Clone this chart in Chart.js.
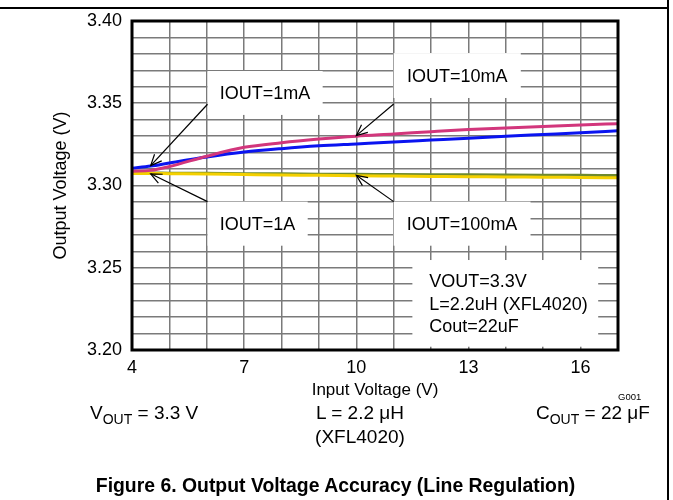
<!DOCTYPE html>
<html><head><meta charset="utf-8">
<script src="https://cdn.jsdelivr.net/npm/chart.js@4.4.1/dist/chart.umd.min.js"></script>
<style>
html,body{margin:0;padding:0;background:#fff;}
#wrap{position:relative;width:673px;height:500px;overflow:hidden;font-family:"Liberation Sans",Arial,sans-serif;color:#000;}
canvas{position:absolute;left:0;top:0;}
.t{position:absolute;white-space:nowrap;line-height:1;}
.sub{font-size:14px;position:relative;top:5px;}
</style></head><body>
<div id="wrap">
<canvas id="c" width="673" height="500"></canvas>
<div style="position:absolute;left:0;top:7px;width:669px;height:2px;background:#000"></div>
<div style="position:absolute;left:667px;top:0;width:2px;height:500px;background:#000"></div>
<div class="t" style="left:90px;top:403px;font-size:19px">V<span class="sub">OUT</span> = 3.3 V</div>
<div class="t" style="left:300px;width:120px;text-align:center;top:403px;font-size:19px">L = 2.2 μH</div>
<div class="t" style="left:300px;width:120px;text-align:center;top:427px;font-size:19px">(XFL4020)</div>
<div class="t" style="left:536px;top:403px;font-size:19px">C<span class="sub">OUT</span> = 22 μF</div>
<div class="t" style="left:618px;top:392px;font-size:9.5px">G001</div>
<div class="t" style="left:0;width:671px;text-align:center;top:476px;font-size:19.4px;font-weight:bold;">Figure 6. Output Voltage Accuracy (Line Regulation)</div>
</div>
<script>
// ---- data ----
const inputVoltage = [4, 4.5, 5, 6, 7, 8, 9, 10, 11, 12, 13, 14, 15, 16, 17];
const iout1mA   = [3.3105, 3.3118, 3.3137, 3.3173, 3.3203, 3.3224, 3.3241, 3.3253, 3.3265, 3.3276, 3.3287, 3.3299, 3.3310, 3.3321, 3.3333];
const iout10mA  = [3.3087, 3.3092, 3.3115, 3.3178, 3.3232, 3.3260, 3.3282, 3.3300, 3.3313, 3.3327, 3.3340, 3.3350, 3.3359, 3.3368, 3.3376];
const iout100mA = [3.3073, 3.3073, 3.3072, 3.3070, 3.3067, 3.3064, 3.3062, 3.3059, 3.3057, 3.3055, 3.3053, 3.3052, 3.3050, 3.3049, 3.3047];
const iout1A    = [3.3076, 3.3076, 3.3075, 3.3074, 3.3072, 3.3071, 3.3069, 3.3068, 3.3067, 3.3066, 3.3065, 3.3064, 3.3063, 3.3062, 3.3061];
const xTickLabels = ['4', '7', '10', '13', '16'];
const yTickLabels = ['3.20', '3.25', '3.30', '3.35', '3.40'];
const seriesNames = ['IOUT=10mA', 'IOUT=1mA', 'IOUT=100mA', 'IOUT=1A'];

// annotation boxes (data coords)
const labelBoxes = [
  {text: ['IOUT=1mA'],   x0: 6.02, x1: 9.1,  y0: 3.3696, y1: 3.3429, ax: 6.02, ay: 3.3494, tx: 4.5, ty: 3.3121},
  {text: ['IOUT=10mA'],  x0: 11.0, x1: 14.4, y0: 3.3805, y1: 3.3532, ax: 11.0, ay: 3.3495, tx: 10.0, ty: 3.3303},
  {text: ['IOUT=1A'],    x0: 6.02, x1: 8.7,  y0: 3.2902, y1: 3.2634, ax: 6.02, ay: 3.2902, tx: 4.5, ty: 3.3071},
  {text: ['IOUT=100mA'], x0: 11.0, x1: 14.66,y0: 3.2902, y1: 3.2634, ax: 11.0, ay: 3.2902, tx: 10.0, ty: 3.3062}
];
const infoBox = {lines: ['VOUT=3.3V', 'L=2.2uH (XFL4020)', 'Cout=22uF'], x0: 11.5, x1: 16.47, y0: 3.2547, y1: 3.2020, tx: 11.95, ty: [3.2415, 3.2274, 3.2142]};

const FONT = '"Liberation Sans", Arial, sans-serif';

const mk = (arr) => inputVoltage.map((v, i) => ({x: v, y: arr[i]}));

const annot = {
  id: 'annot',
  beforeDatasetsDraw(chart) {
    const {ctx, scales: {x, y}} = chart;
    ctx.save();
    ctx.font = '18px ' + FONT;
    ctx.textBaseline = 'middle';
    for (const b of labelBoxes) {
      const l = x.getPixelForValue(b.x0), r = x.getPixelForValue(b.x1);
      const t = y.getPixelForValue(b.y0), bt = y.getPixelForValue(b.y1);
      ctx.fillStyle = '#fff';
      ctx.fillRect(l, t, r - l, bt - t);
      ctx.fillStyle = '#000';
      ctx.textAlign = 'center';
      ctx.fillText(b.text[0], (l + r) / 2, (t + bt) / 2 + 1);
    }
    const l = x.getPixelForValue(infoBox.x0), r = x.getPixelForValue(infoBox.x1);
    const t = y.getPixelForValue(infoBox.y0), bt = y.getPixelForValue(infoBox.y1);
    ctx.fillStyle = '#fff';
    ctx.fillRect(l, t, r - l, bt - t);
    ctx.fillStyle = '#000';
    ctx.textAlign = 'left';
    infoBox.lines.forEach((s, i) => ctx.fillText(s, x.getPixelForValue(infoBox.tx), y.getPixelForValue(infoBox.ty[i])));
    ctx.restore();
  },
  afterDatasetsDraw(chart) {
    const {ctx, chartArea: ca, scales: {x, y}} = chart;
    ctx.save();
    ctx.strokeStyle = '#000';
    ctx.lineWidth = 1.2;
    for (const b of labelBoxes) {
      const sx = x.getPixelForValue(b.ax), sy = y.getPixelForValue(b.ay);
      const ex = x.getPixelForValue(b.tx), ey = y.getPixelForValue(b.ty);
      ctx.beginPath(); ctx.moveTo(sx, sy); ctx.lineTo(ex, ey); ctx.stroke();
      const ang = Math.atan2(sy - ey, sx - ex), L = 12, w = 0.42;
      ctx.beginPath();
      ctx.moveTo(ex + L * Math.cos(ang + w), ey + L * Math.sin(ang + w));
      ctx.lineTo(ex, ey);
      ctx.lineTo(ex + L * Math.cos(ang - w), ey + L * Math.sin(ang - w));
      ctx.stroke();
    }
    ctx.lineWidth = 3;
    ctx.strokeRect(ca.left, ca.top, ca.right - ca.left, ca.bottom - ca.top);
    ctx.restore();
  }
};

new Chart(document.getElementById('c'), {
  type: 'line',
  data: {
    datasets: [
      {label: seriesNames[0], data: mk(iout10mA),  borderColor: '#D2367C', borderWidth: 3, pointRadius: 0, cubicInterpolationMode: 'monotone'},
      {label: seriesNames[1], data: mk(iout1mA),   borderColor: '#0A14F0', borderWidth: 3, pointRadius: 0, cubicInterpolationMode: 'monotone'},
      {label: seriesNames[2], data: mk(iout100mA), borderColor: '#F4D000', borderWidth: 3, pointRadius: 0, cubicInterpolationMode: 'monotone'},
      {label: seriesNames[3], data: mk(iout1A),    borderColor: '#6E8A2E', borderWidth: 3, pointRadius: 0, cubicInterpolationMode: 'monotone'}
    ]
  },
  options: {
    responsive: false,
    animation: false,
    layout: {padding: {left: 46, top: 21, right: 55, bottom: 95}},
    plugins: {legend: {display: false}, tooltip: {enabled: false}},
    scales: {
      x: {
        type: 'linear', min: 4, max: 17,
        afterFit: s => { s.height = 55; },
        ticks: {stepSize: 1, autoSkip: false, maxRotation: 0, padding: 7, color: '#000',
          font: {family: FONT, size: 18},
          callback: v => { const s = String(Math.round(v)); return xTickLabels.includes(s) && Math.abs(v - Math.round(v)) < 1e-6 ? s : ''; }},
        grid: {color: '#7a7a7a', lineWidth: 1.5, drawTicks: false},
        border: {display: false},
        title: {display: true, text: 'Input Voltage (V)', color: '#000', font: {family: FONT, size: 17}}
      },
      y: {
        type: 'linear', min: 3.2, max: 3.4,
        afterFit: s => { s.width = 86; },
        ticks: {stepSize: 0.01, autoSkip: false, padding: 10, color: '#000',
          font: {family: FONT, size: 18},
          callback: v => { const s = v.toFixed(2); return yTickLabels.includes(s) && Math.abs(v * 100 - Math.round(v * 100)) < 1e-6 ? s : ''; }},
        grid: {color: '#7a7a7a', lineWidth: 1.5, drawTicks: false},
        border: {display: false},
        title: {display: true, text: 'Output Voltage (V)', color: '#000', font: {family: FONT, size: 18}}
      }
    }
  },
  plugins: [annot]
});
</script>
</body></html>
